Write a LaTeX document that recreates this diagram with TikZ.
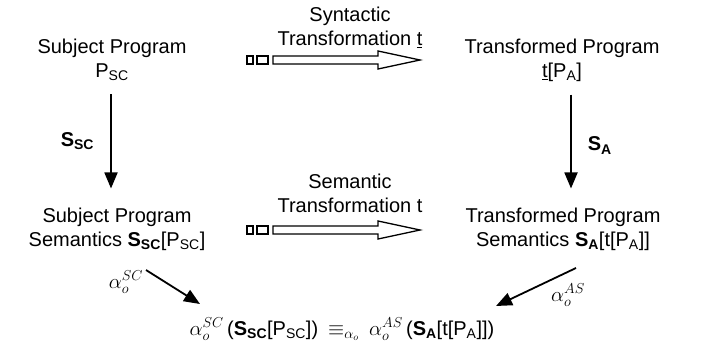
\documentclass[tikz,border=0pt]{standalone}
\usepackage{fontspec}
\setmainfont{Liberation Sans}
\usetikzlibrary{arrows.meta}
\begin{document}
\begin{tikzpicture}[x=1pt,y=-1pt,
  txt/.style={font=\fontsize{20}{24}\selectfont, align=center, inner sep=0pt},
  arr/.style={line width=1.8pt, -{Triangle[length=16pt,width=13pt]}},
  hollow/.style={line width=1.3pt, fill=white, line join=miter}]
\useasboundingbox (0,0) rectangle (709,356);
% top row
\node[txt] (ps) at (112,60) {Subject Program\\P\textsubscript{SC}};
\node[txt] (tp) at (562,60) {Transformed Program\\\underline{t}[P\textsubscript{A}]};
% bottom row
\node[txt] (sps) at (117,229) {Subject Program\\Semantics \textbf{S}\textsubscript{\textbf{SC}}[P\textsubscript{SC}]};
\node[txt] (tps) at (563,229) {Transformed Program\\Semantics \textbf{S}\textsubscript{\textbf{A}}[t[P\textsubscript{A}]]};
% transformations
\node[txt] (syn) at (350,27) {Syntactic\\Transformation \underline{t}};
\node[txt] (sem) at (350,193) {Semantic\\Transformation t};
% vertical arrows
\draw[arr] ([yshift=-13pt]ps.south -| 111,0) -- ([yshift=19pt]sps.north -| 111,0)
  node[midway, left=16pt, txt] (ssc) {\textbf{S}\textsubscript{\textbf{SC}}};
\draw[arr] ([yshift=-13pt]tp.south -| 571,0) -- ([yshift=19pt]tps.north -| 571,0)
  node[midway, right=16pt, txt, yshift=-4pt] (sa) {\textbf{S}\textsubscript{\textbf{A}}};
% hollow arrows
\foreach \yy/\nm in {60/ha, 230/hb}{
  \coordinate (\nm) at (0,\yy);
  \draw[hollow] ([shift={(247,-4)}]\nm) rectangle ([shift={(253,4)}]\nm);
  \draw[hollow] ([shift={(257,-4)}]\nm) rectangle ([shift={(268,4)}]\nm);
  \draw[hollow] ([shift={(273,-4)}]\nm) -- ([shift={(378,-4)}]\nm) -- ([shift={(378,-9)}]\nm)
     -- ([shift={(420,0)}]\nm) -- ([shift={(378,9)}]\nm) -- ([shift={(378,4)}]\nm)
     -- ([shift={(273,4)}]\nm) -- cycle;
}
% final formula
\node[txt] (fm) at (342,329) {$\alpha_o^{SC}$\,(\textbf{S}\textsubscript{\textbf{SC}}[P\textsubscript{SC}])\enspace $\equiv_{\alpha_o}$\enspace $\alpha_o^{AS}$\,(\textbf{S}\textsubscript{\textbf{A}}[t[P\textsubscript{A}]])};
\coordinate (l0) at (146,270);
\coordinate (l1) at (200,304);
\coordinate (r0) at (576,268);
\coordinate (r1) at (496,306);
\draw[arr] (l0) -- (l1);
\draw[arr] (r0) -- (r1);
\node[txt] (asc) at (126,282) {$\alpha_o^{SC}$};
\node[txt] (aas) at (568,295) {$\alpha_o^{AS}$};
\end{tikzpicture}
\end{document}
